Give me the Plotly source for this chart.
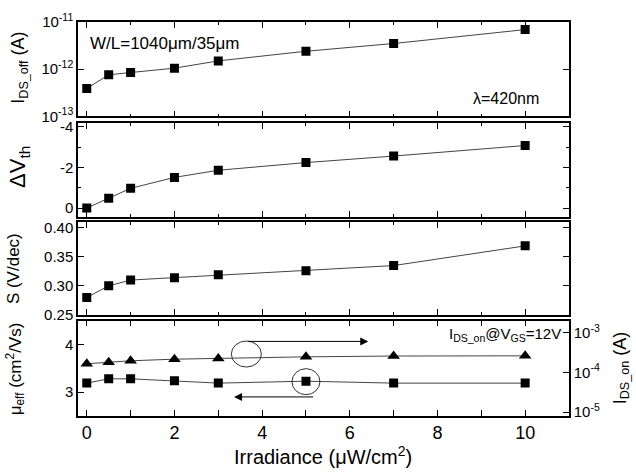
import plotly.graph_objects as go

# Irradiance sweep (µW/cm²) and extracted TFT parameters
irradiance = [0, 0.5, 1, 2, 3, 5, 7, 10]
ids_off = [3.9e-13, 7.6e-13, 8.5e-13, 1.05e-12, 1.5e-12, 2.4e-12, 3.5e-12, 6.9e-12]
delta_vth = [0.0, -0.48, -0.97, -1.51, -1.86, -2.24, -2.56, -3.08]
swing = [0.280, 0.300, 0.310, 0.314, 0.319, 0.326, 0.335, 0.369]
mobility = [3.19, 3.28, 3.28, 3.24, 3.19, 3.23, 3.19, 3.19]
ids_on = [1.64e-4, 1.80e-4, 1.95e-4, 2.14e-4, 2.24e-4, 2.45e-4, 2.57e-4, 2.60e-4]

x_ticks = [0, 2, 4, 6, 8, 10]
off_ticks = [1e-13, 1e-12, 1e-11]
off_labels = ["10<sup>-13</sup>", "10<sup>-12</sup>", "10<sup>-11</sup>"]
vth_ticks = [-4, -2, 0]
vth_labels = ["-4", "-2", "0"]
s_ticks = [0.25, 0.30, 0.35, 0.40]
mu_ticks = [3, 4]
on_ticks = [1e-5, 1e-4, 1e-3]
on_labels = ["10<sup>-5</sup>", "10<sup>-4</sup>", "10<sup>-3</sup>"]

FONT = "Arial, Liberation Sans, sans-serif"
LINE = dict(color="#444444", width=1)
SQ = dict(symbol="square", size=9, color="black")
TRI = dict(symbol="triangle-up", size=11, color="black")

W, H = 636, 476
ML, MR, MT, MB = 78, 67, 11, 60
PW, PH = W - ML - MR, H - MT - MB


def ydom(top_px, bot_px):
    return [(H - MB - bot_px) / PH, (H - MB - top_px) / PH]


fig = go.Figure()
fig.add_trace(go.Scatter(x=irradiance, y=ids_off, mode="lines+markers",
                         line=LINE, marker=SQ, xaxis="x", yaxis="y"))
fig.add_trace(go.Scatter(x=irradiance, y=delta_vth, mode="lines+markers",
                         line=LINE, marker=SQ, xaxis="x2", yaxis="y2"))
fig.add_trace(go.Scatter(x=irradiance, y=swing, mode="lines+markers",
                         line=LINE, marker=SQ, xaxis="x3", yaxis="y3"))
fig.add_trace(go.Scatter(x=irradiance, y=mobility, mode="lines+markers",
                         line=LINE, marker=SQ, xaxis="x4", yaxis="y4"))
fig.add_trace(go.Scatter(x=irradiance, y=ids_on, mode="lines+markers",
                         line=LINE, marker=TRI, xaxis="x4", yaxis="y5"))

axis_common = dict(showline=True, linecolor="black", linewidth=1.5,
                   ticks="inside", ticklen=6, tickwidth=1.2, tickcolor="black",
                   showgrid=False, zeroline=False,
                   tickfont=dict(family=FONT, size=15, color="black"))

xbase = dict(axis_common, range=[-0.2, 11.0], tickvals=x_ticks, mirror="allticks",
             minor=dict(dtick=1, tick0=0, ticks="inside", ticklen=3, tickcolor="black"))

layout = dict(
    width=W, height=H, showlegend=False,
    margin=dict(l=ML, r=MR, t=MT, b=MB),
    paper_bgcolor="white", plot_bgcolor="white",
    font=dict(family=FONT, color="black"),
    xaxis=dict(xbase, anchor="y", showticklabels=False),
    xaxis2=dict(xbase, anchor="y2", matches="x", showticklabels=False),
    xaxis3=dict(xbase, anchor="y3", matches="x", showticklabels=False),
    xaxis4=dict(xbase, anchor="y4", matches="x", showticklabels=True,
                tickfont=dict(family=FONT, size=18, color="black")),
    yaxis=dict(axis_common, type="log", range=[-13.0001, -10.9999], domain=ydom(11, 108),
               tickvals=off_ticks, ticktext=off_labels, mirror="allticks", anchor="x"),
    yaxis2=dict(axis_common, range=[0.42, -4.18], domain=ydom(115, 211),
                tickvals=vth_ticks, ticktext=vth_labels, mirror="allticks", anchor="x2",
                minor=dict(dtick=1, tick0=0, ticks="inside", ticklen=3, tickcolor="black")),
    yaxis3=dict(axis_common, range=[0.25, 0.4095], domain=ydom(217, 312),
                tickvals=s_ticks, tickformat=".2f",
                mirror="allticks", anchor="x3"),
    yaxis4=dict(axis_common, range=[2.5, 4.5], domain=ydom(318, 416),
                tickvals=mu_ticks, mirror=False, anchor="x4"),
    yaxis5=dict(axis_common, type="log", range=[-5.1, -2.7], overlaying="y4",
                side="right", anchor="x4", tickvals=on_ticks, ticktext=on_labels),
)
fig.update_layout(**layout)


# Axis titles placed as rotated annotations
def paper_x(px):
    return (px - ML) / PW


def paper_y(py):
    return (H - MB - py) / PH


titles = [
    ("I<sub>DS_off</sub> (A)", 20, 58, 18),
    ("ΔV<sub>th</sub>", 19, 160, 22),
    ("S (V/dec)", 13, 265, 17),
    ("μ<sub>eff</sub> (cm<sup>2</sup>/Vs)", 15, 367, 17),
    ("I<sub>DS_on</sub> (A)", 621, 367, 18),
]
for text, px, py, size in titles:
    fig.add_annotation(text=text, xref="paper", yref="paper",
                       x=paper_x(px), y=paper_y(py), textangle=-90,
                       showarrow=False, xanchor="center", yanchor="middle",
                       font=dict(family=FONT, size=size, color="black"))

fig.add_annotation(text="Irradiance (μW/cm<sup>2</sup>)", xref="paper", yref="paper",
                   x=paper_x(323), y=paper_y(457), showarrow=False,
                   xanchor="center", yanchor="middle",
                   font=dict(family=FONT, size=20, color="black"))

# In-panel labels
fig.add_annotation(text="W/L=1040μm/35μm", xref="x", yref="y", x=0.02, y=-11.445,
                   showarrow=False, xanchor="left", yanchor="middle",
                   font=dict(family=FONT, size=17, color="black"))
fig.add_annotation(text="λ=420nm", xref="x", yref="y", x=10.37, y=-12.62,
                   showarrow=False, xanchor="right", yanchor="middle",
                   font=dict(family=FONT, size=16, color="black"))
fig.add_annotation(text="I<sub>DS_on</sub>@V<sub>GS</sub>=12V", xref="x4", yref="y4",
                   x=10.87, y=4.2, showarrow=False, xanchor="right", yanchor="middle",
                   font=dict(family=FONT, size=15, color="black"))

# Ellipses marking which curve belongs to which axis
fig.add_shape(type="circle", xref="x4", yref="y4", xsizemode="pixel", ysizemode="pixel",
              xanchor=3.64, yanchor=3.8, x0=-15, x1=15, y0=-13, y1=13,
              line=dict(color="#333333", width=1))
fig.add_shape(type="circle", xref="x4", yref="y4", xsizemode="pixel", ysizemode="pixel",
              xanchor=5.0, yanchor=3.22, x0=-14, x1=14, y0=-13, y1=13,
              line=dict(color="#333333", width=1))

# Arrows pointing to the corresponding axis
fig.add_annotation(xref="x4", yref="y4", axref="x4", ayref="y4",
                   x=6.42, y=4.065, ax=3.64, ay=4.065, text="", showarrow=True,
                   arrowhead=2, arrowsize=1.6, arrowwidth=1, arrowcolor="black")
fig.add_annotation(xref="x4", yref="y4", axref="x4", ayref="y4",
                   x=3.36, y=2.9, ax=5.2, ay=2.9, text="", showarrow=True,
                   arrowhead=2, arrowsize=1.6, arrowwidth=1, arrowcolor="black")

fig.write_html("out.html")
